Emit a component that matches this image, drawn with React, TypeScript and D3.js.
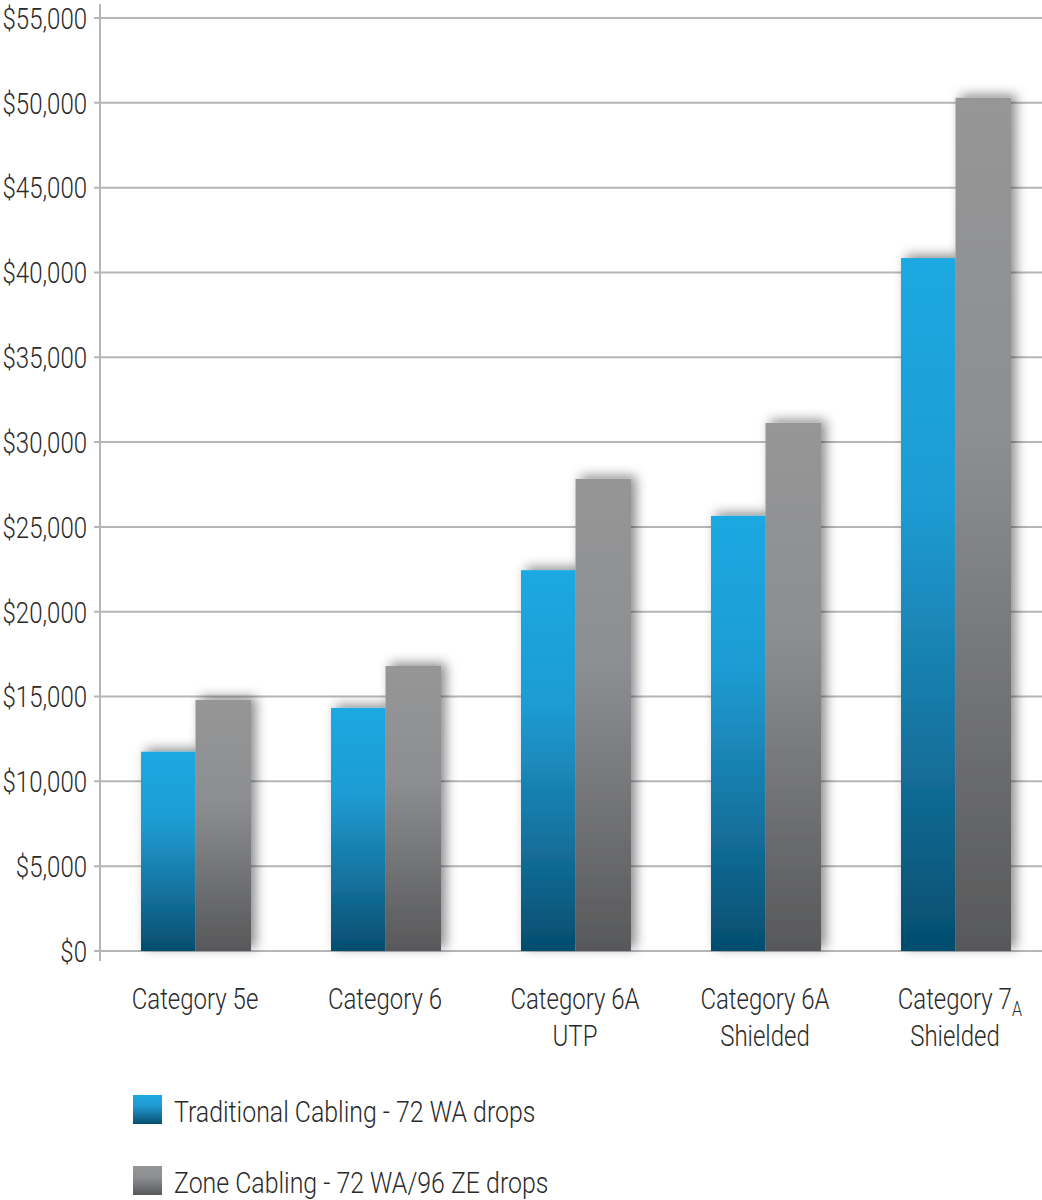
import React from 'react';
import * as d3 from 'd3';

// Cabling cost comparison: traditional vs zone cabling
const categories = ['cat5e', 'cat6', 'cat6aUtp', 'cat6aSh', 'cat7a'];
const categoryLines: string[][] = [
  ['Category 5e'],
  ['Category 6'],
  ['Category 6A', 'UTP'],
  ['Category 6A', 'Shielded'],
  ['Category 7|A', 'Shielded'],
];
const traditional = [11750, 14330, 22450, 25650, 40850];
const zone = [14800, 16800, 27830, 31130, 50300];
const yTicks = [0, 5000, 10000, 15000, 20000, 25000, 30000, 35000, 40000, 45000, 50000, 55000];
const seriesNames = ['Traditional Cabling - 72 WA drops', 'Zone Cabling - 72 WA/96 ZE drops'];

const W = 1042;
const H = 1200;
const axisX = 100;
const font = "Roboto, 'Liberation Sans', sans-serif";
const squeeze = 0.8; // fake a condensed face

export default function App() {
  const y = d3.scaleLinear().domain([0, 55000]).range([951, 18]);
  const x = d3.scaleBand<string>().domain(categories).range([axisX, axisX + 190 * 5]).padding(0);
  const inner = d3.scaleBand<string>()
    .domain(['t', 'z'])
    .range([x.bandwidth() / 2 - 54, x.bandwidth() / 2 + 55])
    .padding(0);
  const fmt = d3.format('$,');

  return (
    <svg width={W} height={H} style={{ position: 'absolute', left: 0, top: 0, background: '#fff' }}>
      <defs>
        <linearGradient id="gBlue" x1="0" y1="0" x2="0" y2="1">
          <stop offset="0" stopColor="#1ea8e2" />
          <stop offset="0.35" stopColor="#1f9cd3" />
          <stop offset="0.7" stopColor="#15739f" />
          <stop offset="1" stopColor="#044d6e" />
        </linearGradient>
        <linearGradient id="gGray" x1="0" y1="0" x2="0" y2="1">
          <stop offset="0" stopColor="#969696" />
          <stop offset="0.4" stopColor="#8c8e91" />
          <stop offset="1" stopColor="#57585a" />
        </linearGradient>
        <filter id="shadow" x="-30%" y="-10%" width="160%" height="120%">
          <feDropShadow dx="5" dy="-3" stdDeviation="6" floodColor="#000" floodOpacity="0.45" />
        </filter>
      </defs>

      {/* gridlines and ticks */}
      {yTicks.map(t => (
        <g key={t}>
          <line x1={axisX - 6} x2={W} y1={y(t)} y2={y(t)} stroke="#b5b6b8" strokeWidth={2} />
          <g transform={`translate(87, ${y(t)}) scale(${squeeze}, 1)`}>
            <text dy="0.36em" textAnchor="end" fontFamily={font} fontWeight={300} fontSize={30} fill="#2a2a2a">
              {fmt(t)}
            </text>
          </g>
        </g>
      ))}
      <line x1={axisX} x2={axisX} y1={4} y2={961} stroke="#b5b6b8" strokeWidth={2} />

      {/* bars */}
      {categories.map((c, i) => {
        const x0 = x(c) as number;
        return (
          <g key={c} filter="url(#shadow)">
            <rect
              x={x0 + (inner('t') as number)}
              y={y(traditional[i])}
              width={inner.bandwidth()}
              height={y(0) - y(traditional[i])}
              fill="url(#gBlue)"
            />
            <rect
              x={x0 + (inner('z') as number)}
              y={y(zone[i])}
              width={inner.bandwidth() + 1}
              height={y(0) - y(zone[i])}
              fill="url(#gGray)"
            />
          </g>
        );
      })}

      {/* category labels */}
      {categories.map((c, i) => {
        const cx = (x(c) as number) + x.bandwidth() / 2;
        return (
          <g key={c} transform={`translate(${cx}, 0) scale(${squeeze}, 1)`}>
            <text textAnchor="middle" fontFamily={font} fontWeight={300} fontSize={30} fill="#2a2a2a">
              {categoryLines[i].map((ln, j) => {
                const [main, sub] = ln.split('|');
                return (
                  <tspan key={j} x={sub ? 6 : 0} y={1009 + j * 37}>
                    {main}
                    {sub && <tspan fontSize={20} dy={7}>{sub}</tspan>}
                  </tspan>
                );
              })}
            </text>
          </g>
        );
      })}

      {/* legend */}
      {seriesNames.map((s, i) => (
        <g key={s} transform={`translate(133, ${1095 + i * 71})`}>
          <rect width={29} height={29} fill={i === 0 ? 'url(#gBlue)' : 'url(#gGray)'} />
          <g transform={`translate(41, 27) scale(0.83, 1)`}>
            <text fontFamily={font} fontWeight={300} fontSize={30} fill="#2a2a2a">{s}</text>
          </g>
        </g>
      ))}
    </svg>
  );
}
